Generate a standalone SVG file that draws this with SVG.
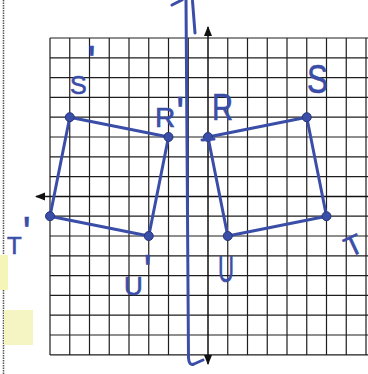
<svg xmlns="http://www.w3.org/2000/svg" width="368" height="374" viewBox="0 0 368 374">
<defs>
<style>
.grid{stroke:#1e1e1e;stroke-width:1.2;fill:none}
.axis{stroke:#111;stroke-width:1.5;fill:none}
.pen{stroke:#3a4ea8;stroke-width:3;fill:none;stroke-linecap:round;stroke-linejoin:round}
.dot{fill:#3a4ea8;stroke:#27357a;stroke-width:1}
.lbl{font-family:"Liberation Sans",Arial,sans-serif;fill:#3a4ea8;stroke:#3a4ea8;stroke-width:0.6}
.p{font-size:44px;stroke-width:0.3}
</style>
<marker id="ah" viewBox="0 0 10 10" refX="9" refY="5" markerWidth="7" markerHeight="7" orient="auto-start-reverse">
<path d="M0,1 L10,5 L0,9 Z" fill="#111"/>
</marker>
</defs>
<rect width="368" height="374" fill="#fff"/>
<line x1="3.5" y1="0" x2="3.5" y2="374" stroke="#555" stroke-width="1.5" stroke-dasharray="1.5,1"/>
<rect x="0" y="255" width="8" height="35" fill="#f5f5b8"/>
<rect x="4" y="310" width="29" height="35" fill="#f5f5c4"/>
<g id="grid" class="grid">
<path d="M50,38V355M69.75,38V355M89.5,38V355M109.25,38V355M129,38V355M148.75,38V355M168.5,38V355M188.25,38V355M227.75,38V355M247.5,38V355M267.25,38V355M287,38V355M306.75,38V355M326.5,38V355M346.25,38V355M366,38V355"/>
<path d="M50,38H368M50,57.8H368M50,77.6H368M50,97.4H368M50,117.2H368M50,137H368M50,156.8H368M50,176.6H368M50,216.2H368M50,236H368M50,255.8H368M50,275.6H368M50,295.4H368M50,315.2H368M50,335H368M50,354.8H368"/>
</g>
<g id="axes" class="axis">
<line x1="208" y1="364" x2="208" y2="27" marker-end="url(#ah)" marker-start="url(#ah)"/>
<line x1="368" y1="196.4" x2="36" y2="196.4" marker-end="url(#ah)"/>
</g>
<g id="mirror" class="pen">
<path d="M186,0 L188.5,358 Q189,366 194,364 L203,360"/>
<path d="M192.5,1 L195,33"/>
<path d="M172,5 L182,0"/>
</g>
<g id="connectors" class="pen">
<path d="M69.75,117.2 L168.5,137 L148.75,236 L50,216.2 Z"/>
<path d="M208,137 L306.75,117.2 L326.5,216.2 L227.75,236 Z"/>
</g>
<g id="node-S1"><circle class="dot" cx="69.75" cy="117.2" r="4.5"/><text class="lbl" font-size="25" x="70" y="94">S<tspan class="p" x="87.5" y="76.5">'</tspan></text></g>
<g id="node-R1"><circle class="dot" cx="168.5" cy="137" r="4.5"/><text class="lbl" font-size="28" x="155" y="127">R<tspan class="p" x="176" y="127.5">'</tspan></text></g>
<g id="node-T1"><text class="lbl" font-size="24" x="7" y="254">T<tspan class="p" x="22.5" y="247.5">'</tspan></text><circle class="dot" cx="50" cy="216.2" r="4.5"/></g>
<g id="node-U1"><circle class="dot" cx="148.75" cy="236" r="4.5"/><text class="lbl" font-size="26" x="124" y="295">U<tspan class="p" x="143.5" y="285.5">'</tspan></text></g>
<g id="node-R"><circle class="dot" cx="208" cy="137" r="4.5"/><path class="pen" d="M202,140 L214,139" stroke-width="2.5"/><text class="lbl" font-size="36" x="212" y="120" textLength="21" lengthAdjust="spacingAndGlyphs">R</text></g>
<g id="node-S"><circle class="dot" cx="306.75" cy="117.2" r="4.5"/><text class="lbl" font-size="40" x="307" y="93" textLength="21" lengthAdjust="spacingAndGlyphs">S</text></g>
<g id="node-T"><circle class="dot" cx="326.5" cy="216.2" r="4.5"/><text class="lbl" font-size="28" x="349" y="256" text-anchor="middle" transform="rotate(-25 349 236)">T</text></g>
<g id="node-U"><circle class="dot" cx="227.75" cy="236" r="4.5"/><text class="lbl" font-size="36" x="218" y="282" textLength="16" lengthAdjust="spacingAndGlyphs">U</text></g>
</svg>
